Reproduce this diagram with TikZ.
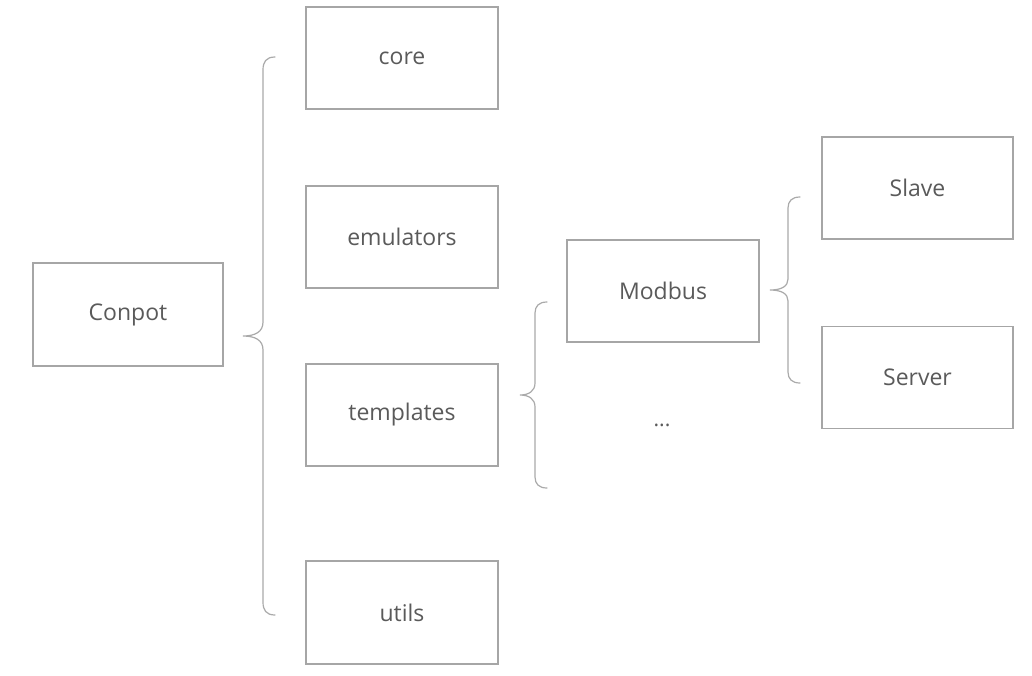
\documentclass[tikz,border=0pt]{standalone}
\usepackage{fontspec}
\setmainfont{Open Sans}
\definecolor{txt}{HTML}{5A5A5A}
\definecolor{frame}{HTML}{A6A6A6}
\definecolor{brc}{HTML}{AAAAAA}
\tikzset{
  box/.style={draw=frame, line width=1.2pt, fill=white, text=txt, inner sep=0pt,
    minimum width=192pt, minimum height=102pt, font=\fontsize{23}{27}\selectfont},
  brc/.style={draw=brc, line width=1.2pt, line cap=round},
}
\begin{document}
\begin{tikzpicture}[x=1pt,y=-1pt]
\fill[white] (0,0) rectangle (1032,675);
\useasboundingbox (0,0) rectangle (1032,675);

\node[box, minimum width=190pt, minimum height=103pt] (conpot) at (128,314.5) {Conpot};
\node[box] (core) at (402,58) {core};
\node[box] (emu) at (402,237) {emulators};
\node[box] (tpl) at (402,415) {templates};
\node[box, minimum height=103pt] (utils) at (402,612.5) {utils};
\node[box] (modbus) at (663,291) {Modbus};
\node[text=txt, font=\fontsize{21}{24}\selectfont] (dots) at (662,425) {...};
\node[box, minimum width=191pt] (slave) at (917.5,188) {Slave};
\node[box, minimum width=191pt] (server) at (917.5,377.5) {Server};

% brace 1
\coordinate (b1t) at (275,57);
\coordinate (b1m) at (243,336);
\coordinate (b1b) at (275,615);
\draw[brc] (b1t) .. controls (266,57) and (263,62) .. (263,70) -- (263,322)
  .. controls (263,332) and (255,336) .. (b1m)
  .. controls (255,336) and (263,340) .. (263,350) -- (263,602)
  .. controls (263,610) and (266,615) .. (b1b);

% brace 2
\coordinate (b2t) at (547,302);
\coordinate (b2m) at (520,395);
\coordinate (b2b) at (547,488);
\draw[brc] (b2t) .. controls (539,302) and (535,306) .. (535,313) -- (535,383)
  .. controls (535,391) and (529,395) .. (b2m)
  .. controls (529,395) and (535,399) .. (535,407) -- (535,477)
  .. controls (535,484) and (539,488) .. (b2b);

% brace 3
\coordinate (b3t) at (800,197);
\coordinate (b3m) at (770,290);
\coordinate (b3b) at (800,383);
\draw[brc] (b3t) .. controls (792,197) and (788,201) .. (788,208) -- (788,279)
  .. controls (788,286) and (782,290) .. (b3m)
  .. controls (782,290) and (788,294) .. (788,301) -- (788,372)
  .. controls (788,379) and (792,383) .. (b3b);
\end{tikzpicture}
\end{document}
